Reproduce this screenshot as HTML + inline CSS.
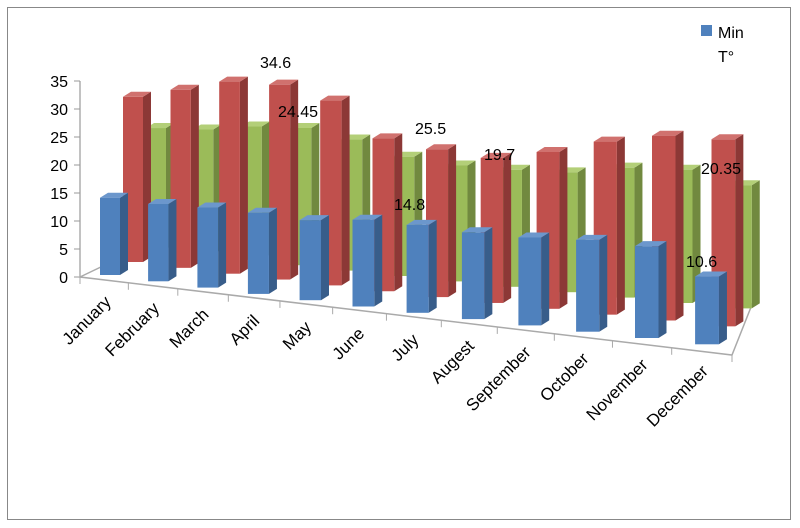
<!DOCTYPE html>
<html><head><meta charset="utf-8"><style>
html,body{margin:0;padding:0;background:#fff}
svg{display:block;font-family:"Liberation Sans",sans-serif}
</style></head><body>
<svg id="c" width="800" height="528" viewBox="0 0 800 528">
<rect x="7.5" y="7.5" width="783" height="512" fill="#fff" stroke="#888"/>
<g id="axes"></g>
<g id="bars"></g>
<g id="labels"></g>
<g font-size="16" fill="#000">
<text x="260" y="68">34.6</text>
<text x="278" y="117">24.45</text>
<text x="415" y="134">25.5</text>
<text x="394" y="210">14.8</text>
<text x="484" y="160">19.7</text>
<text x="701" y="174">20.35</text>
<text x="686" y="267">10.6</text>
</g>
<g>
<rect x="701" y="25" width="11" height="11" fill="#4F81BD"/>
<text x="718" y="38" font-size="16">Min</text>
<text x="718" y="62" font-size="16">T°</text>
</g>
</svg>
<script>
const categories=["January","February","March","April","May","June","July","Augest","September","October","November","December"];
const minValues=[13.8,13.8,14.3,14.5,14.3,15.5,15.7,15.5,15.7,16.4,16.4,12.1];
const maxValues=[29.5,31.8,34.3,34.8,33,27.3,26.4,25.9,28,30.9,33,33.4];
const avgValues=[21.6,22.3,23.8,24.5,23.4,21.3,20.7,20.9,21.4,23.2,23.8,22];
const yTicks=[0,5,10,15,20,25,30,35];

const NS="http://www.w3.org/2000/svg";
const axes=document.getElementById('axes'),bars=document.getElementById('bars'),labels=document.getElementById('labels');
function mk(tag,attrs,parent){const e=document.createElementNS(NS,tag);for(const k in attrs)e.setAttribute(k,attrs[k]);parent.appendChild(e);return e;}
const SCALE=5.6;
function yScale(v){return v*SCALE;}
function baseX(i,r){return 100+47.5*i+0.6*i*i+r*(23-0.6*i);}
function baseY(i,r){return 275+6.3*i-r*(13+0.45*i);}
function barW(i){return 20+0.35*i;}

const wallX=80;
let ax=mk('line',{x1:wallX,y1:277,x2:wallX,y2:277-yScale(35),stroke:'#999','stroke-width':1.2},axes);


yTicks.forEach(t=>{
  const y=277-yScale(t);
  const tk=mk('line',{x1:wallX-6,y1:y,x2:wallX,y2:y,stroke:'#999'},axes);
  
  
  const tx=mk('text',{x:wallX-12,y:y+6,'text-anchor':'end','font-size':16},axes);
  tx.textContent=t;
  
  
});
const fl=mk('polyline',{points:"105,265 80,277 732,355 755,297",fill:'none',stroke:'#aaa','stroke-width':1.5},axes);


for(let i=0;i<=12;i++){
  const x=80+(732-80)*(i/12)*(1+0.12*(i/12-1));
  const y=277+(x-80)*(78/652);
  const tk=mk('line',{x1:x,y1:y,x2:x,y2:y+7,stroke:'#aaa'},axes);
  
  
}

const series=[
 {vals:avgValues,r:2,f:'#9BBB59',s:'#71893F',t:'#B3CF78',name:'avg'},
 {vals:maxValues,r:1,f:'#C0504D',s:'#8C3836',t:'#D0716E',name:'max'},
 {vals:minValues,r:0,f:'#4F81BD',s:'#385D8A',t:'#6C97CC',name:'min'}
];
series.forEach(se=>{
  for(let i=categories.length-1;i>=0;i--){
    const x=baseX(i,se.r),y=baseY(i,se.r),w=barW(i),h=yScale(se.vals[i]);
    const dx=8,dy=-5,top=y-h;
    const g=mk('g',{},bars);
    
    
    mk('polygon',{points:`${x+w},${top} ${x+w+dx},${top+dy} ${x+w+dx},${y+dy} ${x+w},${y}`,fill:se.s},g);
    mk('polygon',{points:`${x},${top} ${x+dx},${top+dy} ${x+w+dx},${top+dy} ${x+w},${top}`,fill:se.t},g);
    mk('rect',{x:x,y:top,width:w,height:h,fill:se.f},g);
  }
});

categories.forEach((c,i)=>{
  const x=baseX(i,0)+barW(i)/2+2,y=baseY(i,0)+28;
  const t=mk('text',{x:x,y:y,'text-anchor':'end','font-size':17,transform:`rotate(-45 ${x} ${y})`},labels);
  t.textContent=c;
  
  
});
</script>
</body></html>
